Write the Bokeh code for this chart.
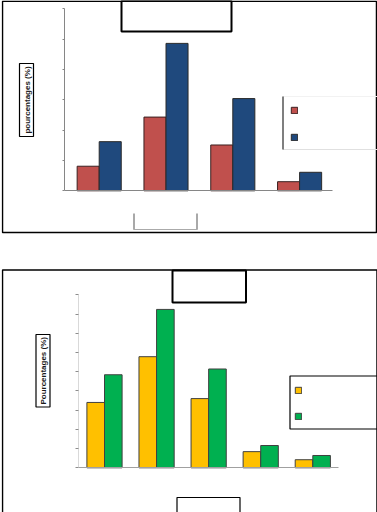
import math
from bokeh.plotting import figure
from bokeh.layouts import column
from bokeh.models import (Range1d, FixedTicker, CustomJSTickFormatter, BoxAnnotation,
                          Label, Legend, LegendItem, Spacer, ColumnDataSource)
from bokeh.embed import file_html
from bokeh.resources import INLINE

# ---- data (no tick labels, so arbitrary units) ----
top_categories = ["1", "2", "3", "4"]
top_red = [8.1, 24.3, 15.1, 3.0]
top_blue = [16.2, 48.6, 30.4, 6.1]
top_ticks = [0, 10, 20, 30, 40, 50, 60]

bot_categories = ["1", "2", "3", "4", "5"]
bot_yellow = [17.0, 28.9, 18.0, 4.2, 2.1]
bot_green = [24.2, 41.2, 25.7, 5.8, 3.2]
bot_ticks = [0, 5, 10, 15, 20, 25, 30, 35, 40, 45]

ylabel_top = "pourcentages (%)"
ylabel_bot = "Pourcentages (%)"

RED, BLUE, YEL, GRN = "#C0504D", "#1F497D", "#FFC000", "#00B050"


def lin(px_lo, px_hi, a_px, a_val, b_px, b_val):
    k = (b_val - a_val) / (b_px - a_px)
    return a_val + (px_lo - a_px) * k, a_val + (px_hi - a_px) * k


def cbox(p, l, t, r, b, color="black", width=1.0, fill=None):
    p.add_layout(BoxAnnotation(left=l, right=r, top=t, bottom=b,
                               left_units="canvas", right_units="canvas",
                               top_units="canvas", bottom_units="canvas",
                               fill_color=fill, fill_alpha=1.0 if fill else 0.0,
                               line_color=color, line_width=width,
                               line_alpha=1.0 if color else 0.0))


def base_fig(w, h, xr, yr):
    p = figure(width=w, height=h, output_backend="svg", toolbar_location=None,
               x_range=xr, y_range=yr, min_border_left=1, min_border_right=0,
               min_border_top=0, min_border_bottom=0)
    p.outline_line_color = None
    p.xgrid.visible = False
    p.ygrid.visible = False
    p.background_fill_color = "white"
    p.border_fill_color = "white"
    p.xaxis.ticker = FixedTicker(ticks=[])
    p.xaxis.major_tick_line_color = None
    p.xaxis.minor_tick_line_color = None
    p.xaxis.major_label_standoff = 0
    p.yaxis.minor_tick_line_color = None
    p.yaxis.major_tick_in = 0
    p.yaxis.major_label_standoff = 0
    p.yaxis.formatter = CustomJSTickFormatter(code="return ''")
    return p


# ---------------- top chart (canvas 377 x 234) ----------------
n1 = len(top_categories)
xlo, xhi = lin(1, 377, 98.7, 0.5, 299.1, 3.5)
ylo, yhi = lin(234, 0, 190.3, 0, 8.3, top_ticks[-1])
p1 = base_fig(377, 234, Range1d(xlo, xhi), Range1d(ylo, yhi))
y_ax_x1 = lin(64, 64, 98.7, 0.5, 299.1, 3.5)[0]
x_end1 = lin(332, 332, 98.7, 0.5, 299.1, 3.5)[0]
p1.yaxis.ticker = FixedTicker(ticks=top_ticks)
p1.yaxis.fixed_location = y_ax_x1
p1.yaxis.bounds = (0, top_ticks[-1])
p1.yaxis.major_tick_out = 2
p1.yaxis.axis_line_color = "#868686"
p1.yaxis.major_tick_line_color = "#868686"
p1.xaxis.fixed_location = 0
p1.xaxis.bounds = (y_ax_x1, x_end1)
p1.xaxis.axis_line_color = "#868686"

bw1 = 0.33
xs1 = [i + 0.5 for i in range(n1)]
s1 = ColumnDataSource(dict(xr=[x - bw1 / 2 for x in xs1], xb=[x + bw1 / 2 for x in xs1],
                           red=top_red, blue=top_blue))
r_red = p1.vbar(x="xr", top="red", width=bw1, source=s1, fill_color=RED,
                line_color="#3a2020", line_width=1)
r_blue = p1.vbar(x="xb", top="blue", width=bw1, source=s1, fill_color=BLUE,
                 line_color="#2a2a2a", line_width=1)

# outer frame, title box, y-label box, x-label (open) box, legend frame lines
cbox(p1, 2, 0.75, 376, 232, color="black", width=1.5)
cbox(p1, 121, 0.5, 231, 31, color="black", width=2)
cbox(p1, 19, 63, 33, 136, color="black", width=1.2, fill="white")
cbox(p1, 133, 213, 134, 229, color=None, fill="#555555")
cbox(p1, 196, 213, 197, 229, color=None, fill="#555555")
cbox(p1, 133, 228.5, 197, 229.5, color=None, fill="#aaaaaa")
cbox(p1, 282.5, 95.5, 377, 96.5, color=None, fill="#f2f2f2")
cbox(p1, 282.5, 148.5, 377, 149.5, color=None, fill="#e0e0e0")
cbox(p1, 282, 96, 283, 149, color=None, fill="black")
p1.add_layout(Label(x=26.5, y=99.5, x_units="canvas", y_units="canvas", text=ylabel_top,
                    angle=math.pi / 2, text_align="center", text_baseline="middle",
                    text_font="Liberation Sans", text_font_size="8px",
                    text_font_style="bold", text_color="#1a1a1a"))
leg1 = Legend(items=[LegendItem(label=" ", renderers=[r_red]),
                     LegendItem(label=" ", renderers=[r_blue])],
              location=(289.4, 93.2), glyph_width=8, glyph_height=8, label_height=8,
              label_width=38, label_standoff=5, spacing=19, padding=9, margin=0,
              label_text_font_size="8px",
              border_line_color=None, background_fill_alpha=0.0)
p1.add_layout(leg1, "center")

# ---------------- bottom chart (canvas 377 x 244, starts at page y 268) ----------------
n2 = len(bot_categories)
xlo2, xhi2 = lin(1, 377, 104, 0.5, 312.3, 4.5)
ylo2, yhi2 = lin(244, 0, 199.3, 0, 26.3, bot_ticks[-1])
p2 = base_fig(377, 244, Range1d(xlo2, xhi2), Range1d(ylo2, yhi2))
y_ax_x2 = lin(77.7, 77.7, 104, 0.5, 312.3, 4.5)[0]
x_end2 = lin(337.7, 337.7, 104, 0.5, 312.3, 4.5)[0]
p2.yaxis.ticker = FixedTicker(ticks=bot_ticks)
p2.yaxis.fixed_location = y_ax_x2
p2.yaxis.bounds = (0, bot_ticks[-1])
p2.yaxis.major_tick_out = 3
p2.yaxis.axis_line_color = "#d9d9d9"
p2.yaxis.major_tick_line_color = "#8c8c8c"
p2.xaxis.fixed_location = 0
p2.xaxis.bounds = (y_ax_x2, x_end2)
p2.xaxis.axis_line_color = "#a0a0a0"

bw2 = 0.338
xs2 = [i + 0.5 for i in range(n2)]
s2 = ColumnDataSource(dict(xy=[x - bw2 / 2 for x in xs2], xg=[x + bw2 / 2 for x in xs2],
                           yel=bot_yellow, grn=bot_green))
r_yel = p2.vbar(x="xy", top="yel", width=bw2, source=s2, fill_color=YEL,
                line_color="#404040", line_width=1)
r_grn = p2.vbar(x="xg", top="grn", width=bw2, source=s2, fill_color=GRN,
                line_color="#404040", line_width=1)

cbox(p2, 2, 1.5, 376.5, 260, color="black", width=1.5)
cbox(p2, 172, 2, 245.5, 34, color="black", width=2)
cbox(p2, 35.5, 66, 49.5, 138.5, color="black", width=1.2, fill="white")
cbox(p2, 176.5, 229, 239.5, 260, color="black", width=1.2)
cbox(p2, 289.5, 107.5, 380, 160.5, color="black", width=1.2)
p2.add_layout(Label(x=42.5, y=102.3, x_units="canvas", y_units="canvas", text=ylabel_bot,
                    angle=math.pi / 2, text_align="center", text_baseline="middle",
                    text_font="Liberation Sans", text_font_size="8px",
                    text_font_style="bold", text_color="#1a1a1a"))
leg2 = Legend(items=[LegendItem(label=" ", renderers=[r_yel]),
                     LegendItem(label=" ", renderers=[r_grn])],
              location=(293.1, 92.4), glyph_width=8, glyph_height=8, label_height=8,
              label_width=38, label_standoff=5, spacing=18, padding=8, margin=0,
              label_text_font_size="8px",
              border_line_color=None, background_fill_alpha=0.0)
p2.add_layout(leg2, "center")

layout = column(p1, Spacer(width=377, height=34), p2, spacing=0)
open("out.html", "w").write(file_html(layout, INLINE))
